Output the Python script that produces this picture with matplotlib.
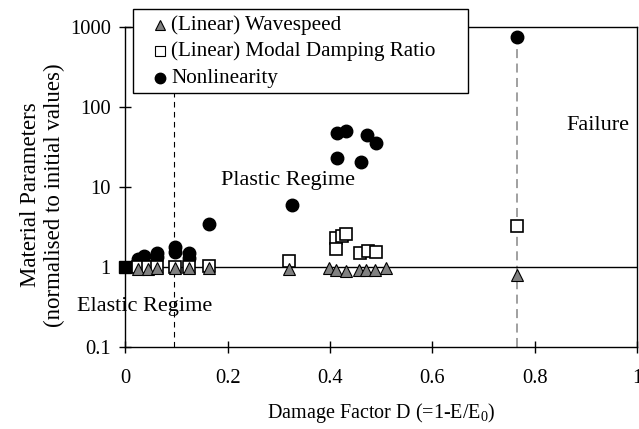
import numpy as np
import matplotlib
matplotlib.use("Agg")
import matplotlib.pyplot as plt
from matplotlib.lines import Line2D
from matplotlib.patches import Rectangle

plt.rcParams['font.family'] = ['Liberation Serif', 'DejaVu Serif']
plt.rcParams['mathtext.fontset'] = 'custom'
plt.rcParams['mathtext.rm'] = 'Liberation Serif'
plt.rcParams['mathtext.it'] = 'Liberation Serif:italic'

# damage factor D and normalised parameters for each measurement
init_d = [0.0]
init_v = [1.0]

wave_d = [0.024, 0.044, 0.062, 0.096, 0.125, 0.163, 0.32, 0.398, 0.412, 0.432, 0.457, 0.471, 0.487, 0.509, 0.765]
wave_v = [0.95, 0.95, 0.96, 0.97, 0.97, 0.98, 0.95, 0.96, 0.93, 0.89, 0.93, 0.92, 0.93, 0.96, 0.79]

damp_d = [0.024, 0.044, 0.062, 0.096, 0.125, 0.163, 0.32, 0.412, 0.412, 0.424, 0.432, 0.459, 0.474, 0.489, 0.765]
damp_v = [1.0, 1.0, 1.0, 1.0, 1.0, 1.02, 1.2, 2.29, 1.68, 2.44, 2.58, 1.51, 1.58, 1.55, 3.25]

nonlin_d = [0.024, 0.037, 0.062, 0.062, 0.096, 0.096, 0.125, 0.125, 0.163, 0.325,
            0.413, 0.413, 0.432, 0.46, 0.472, 0.489, 0.765]
nonlin_v = [1.25, 1.37, 1.51, 1.35, 1.76, 1.55, 1.51, 1.3, 3.45, 6.0,
            47, 22.8, 50.6, 20.8, 44.7, 36, 750]

elastic_limit = 0.095
failure_d = 0.765

x_ticks = [0, 0.2, 0.4, 0.6, 0.8, 1]
x_labels = ['0', '0.2', '0.4', '0.6', '0.8', '1']
y_ticks = [0.1, 1, 10, 100, 1000]
y_labels = ['0.1', '1', '10', '100', '1000']

names = ['(Linear) Wavespeed', '(Linear) Modal Damping Ratio', 'Nonlinearity']

W, H = 639, 429
fig = plt.figure(figsize=(W / 100, H / 100), dpi=100)
ax = fig.add_axes([0.1964, 0.1911, 0.8005, 0.7459])
ax.set_yscale('log')
ax.set_xlim(0, 1)
ax.set_ylim(0.1, 1000)

# regime boundaries and the reference line at 1
ax.plot([elastic_limit, elastic_limit], [0.1, 1000], color='black', lw=0.8, ls=(0, (5, 4)), zorder=1)
ax.plot([failure_d, failure_d], [0.1, nonlin_v[-1]], color='#999999', lw=1.3, ls=(0, (5, 3)), zorder=1)
ax.axhline(1, color='black', lw=1.0, zorder=1)

ax.plot(nonlin_d, nonlin_v, 'o', ms=9, mfc='black', mec='black', zorder=3)
ax.plot(damp_d, damp_v, 's', ms=8, mfc='white', mec='black', mew=1.2, zorder=4)
ax.plot(wave_d, wave_v, '^', ms=8.5, mfc='#808080', mec='black', mew=0.8, zorder=5)
ax.plot(init_d, init_v, 's', ms=8, mfc='black', mec='black', zorder=6, clip_on=False)

ax.set_xticks(x_ticks)
ax.set_xticklabels(x_labels)
ax.set_yticks(y_ticks)
ax.set_yticklabels(y_labels)
ax.minorticks_off()
ax.tick_params(direction='inout', length=9, width=1, labelsize=14.8)
ax.tick_params(axis='x', pad=11)
ax.tick_params(axis='y', pad=6)

for s in ax.spines.values():
    s.set_linewidth(1.0)

ax.text(0.038, 0.324, 'Elastic Regime', fontsize=16, ha='center', va='center')
ax.text(0.317, 12.2, 'Plastic Regime', fontsize=16, ha='center', va='center')
ax.text(0.923, 59.6, 'Failure', fontsize=16, ha='center', va='center')

ax.set_xlabel('Damage Factor D (=1-E/E$_0$)', fontsize=14.5, labelpad=10)
ax.set_ylabel('Material Parameters\n(normalised to initial values)', fontsize=16.5)
ax.yaxis.set_label_coords(-0.118, 0.475)

# legend box drawn by hand, in figure pixels
def fx(px):
    return px / W

def fy(py):
    return 1 - py / H

fig.add_artist(Rectangle((fx(133), fy(93)), fx(468) - fx(133), fy(9) - fy(93),
                         transform=fig.transFigure, facecolor='white', edgecolor='black',
                         lw=1.0, zorder=10))
leg_marks = [dict(marker='^', ms=7.5, mfc='#808080', mec='black', mew=0.8),
             dict(marker='s', ms=7, mfc='white', mec='black', mew=0.8),
             dict(marker='o', ms=7.5, mfc='black', mec='black')]
row_y = [25, 51, 78]
for name, mk, ry in zip(names, leg_marks, row_y):
    fig.add_artist(Line2D([fx(160)], [fy(ry)], ls='none', transform=fig.transFigure, zorder=11, **mk))
    fig.text(fx(171), fy(ry), name, fontsize=15.2, ha='left', va='center', zorder=11)

fig.savefig('out.png', dpi=100)
